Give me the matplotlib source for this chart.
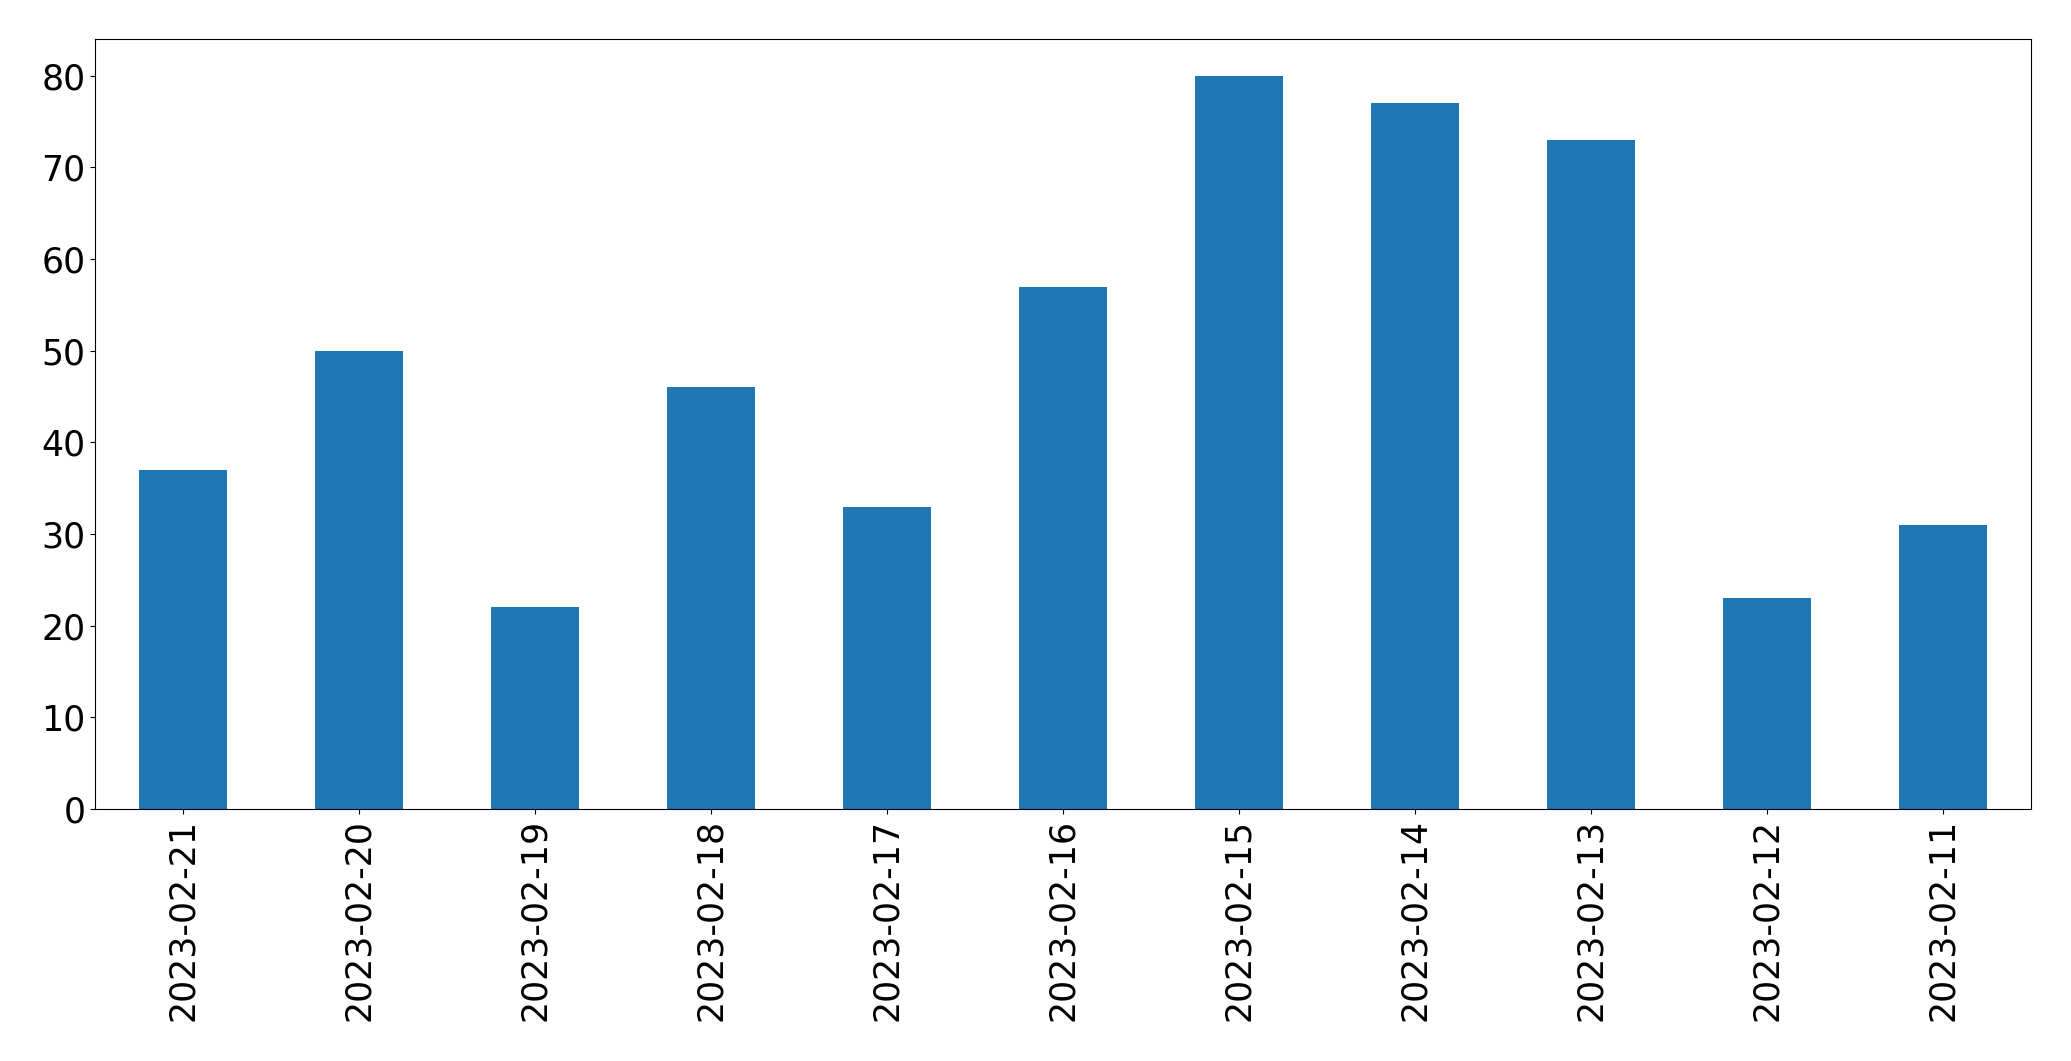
import matplotlib
matplotlib.use("Agg")
import matplotlib.pyplot as plt
import pandas as pd

dates = ["2023-02-21", "2023-02-20", "2023-02-19", "2023-02-18", "2023-02-17",
         "2023-02-16", "2023-02-15", "2023-02-14", "2023-02-13", "2023-02-12",
         "2023-02-11"]
counts = [37, 50, 22, 46, 33, 57, 80, 77, 73, 23, 31]

s = pd.Series(counts, index=dates)

fig = plt.figure(figsize=(20.71, 10.61), dpi=100)
ax = fig.add_axes([95 / 2071, 1 - 809 / 1061, (2031 - 95) / 2071, (809 - 39) / 1061])
s.plot.bar(ax=ax, color="#1f77b4", width=0.5)
ax.tick_params(axis="both", labelsize=25)
ax.tick_params(axis="x", rotation=90)

fig.savefig("out.png", dpi=100)
